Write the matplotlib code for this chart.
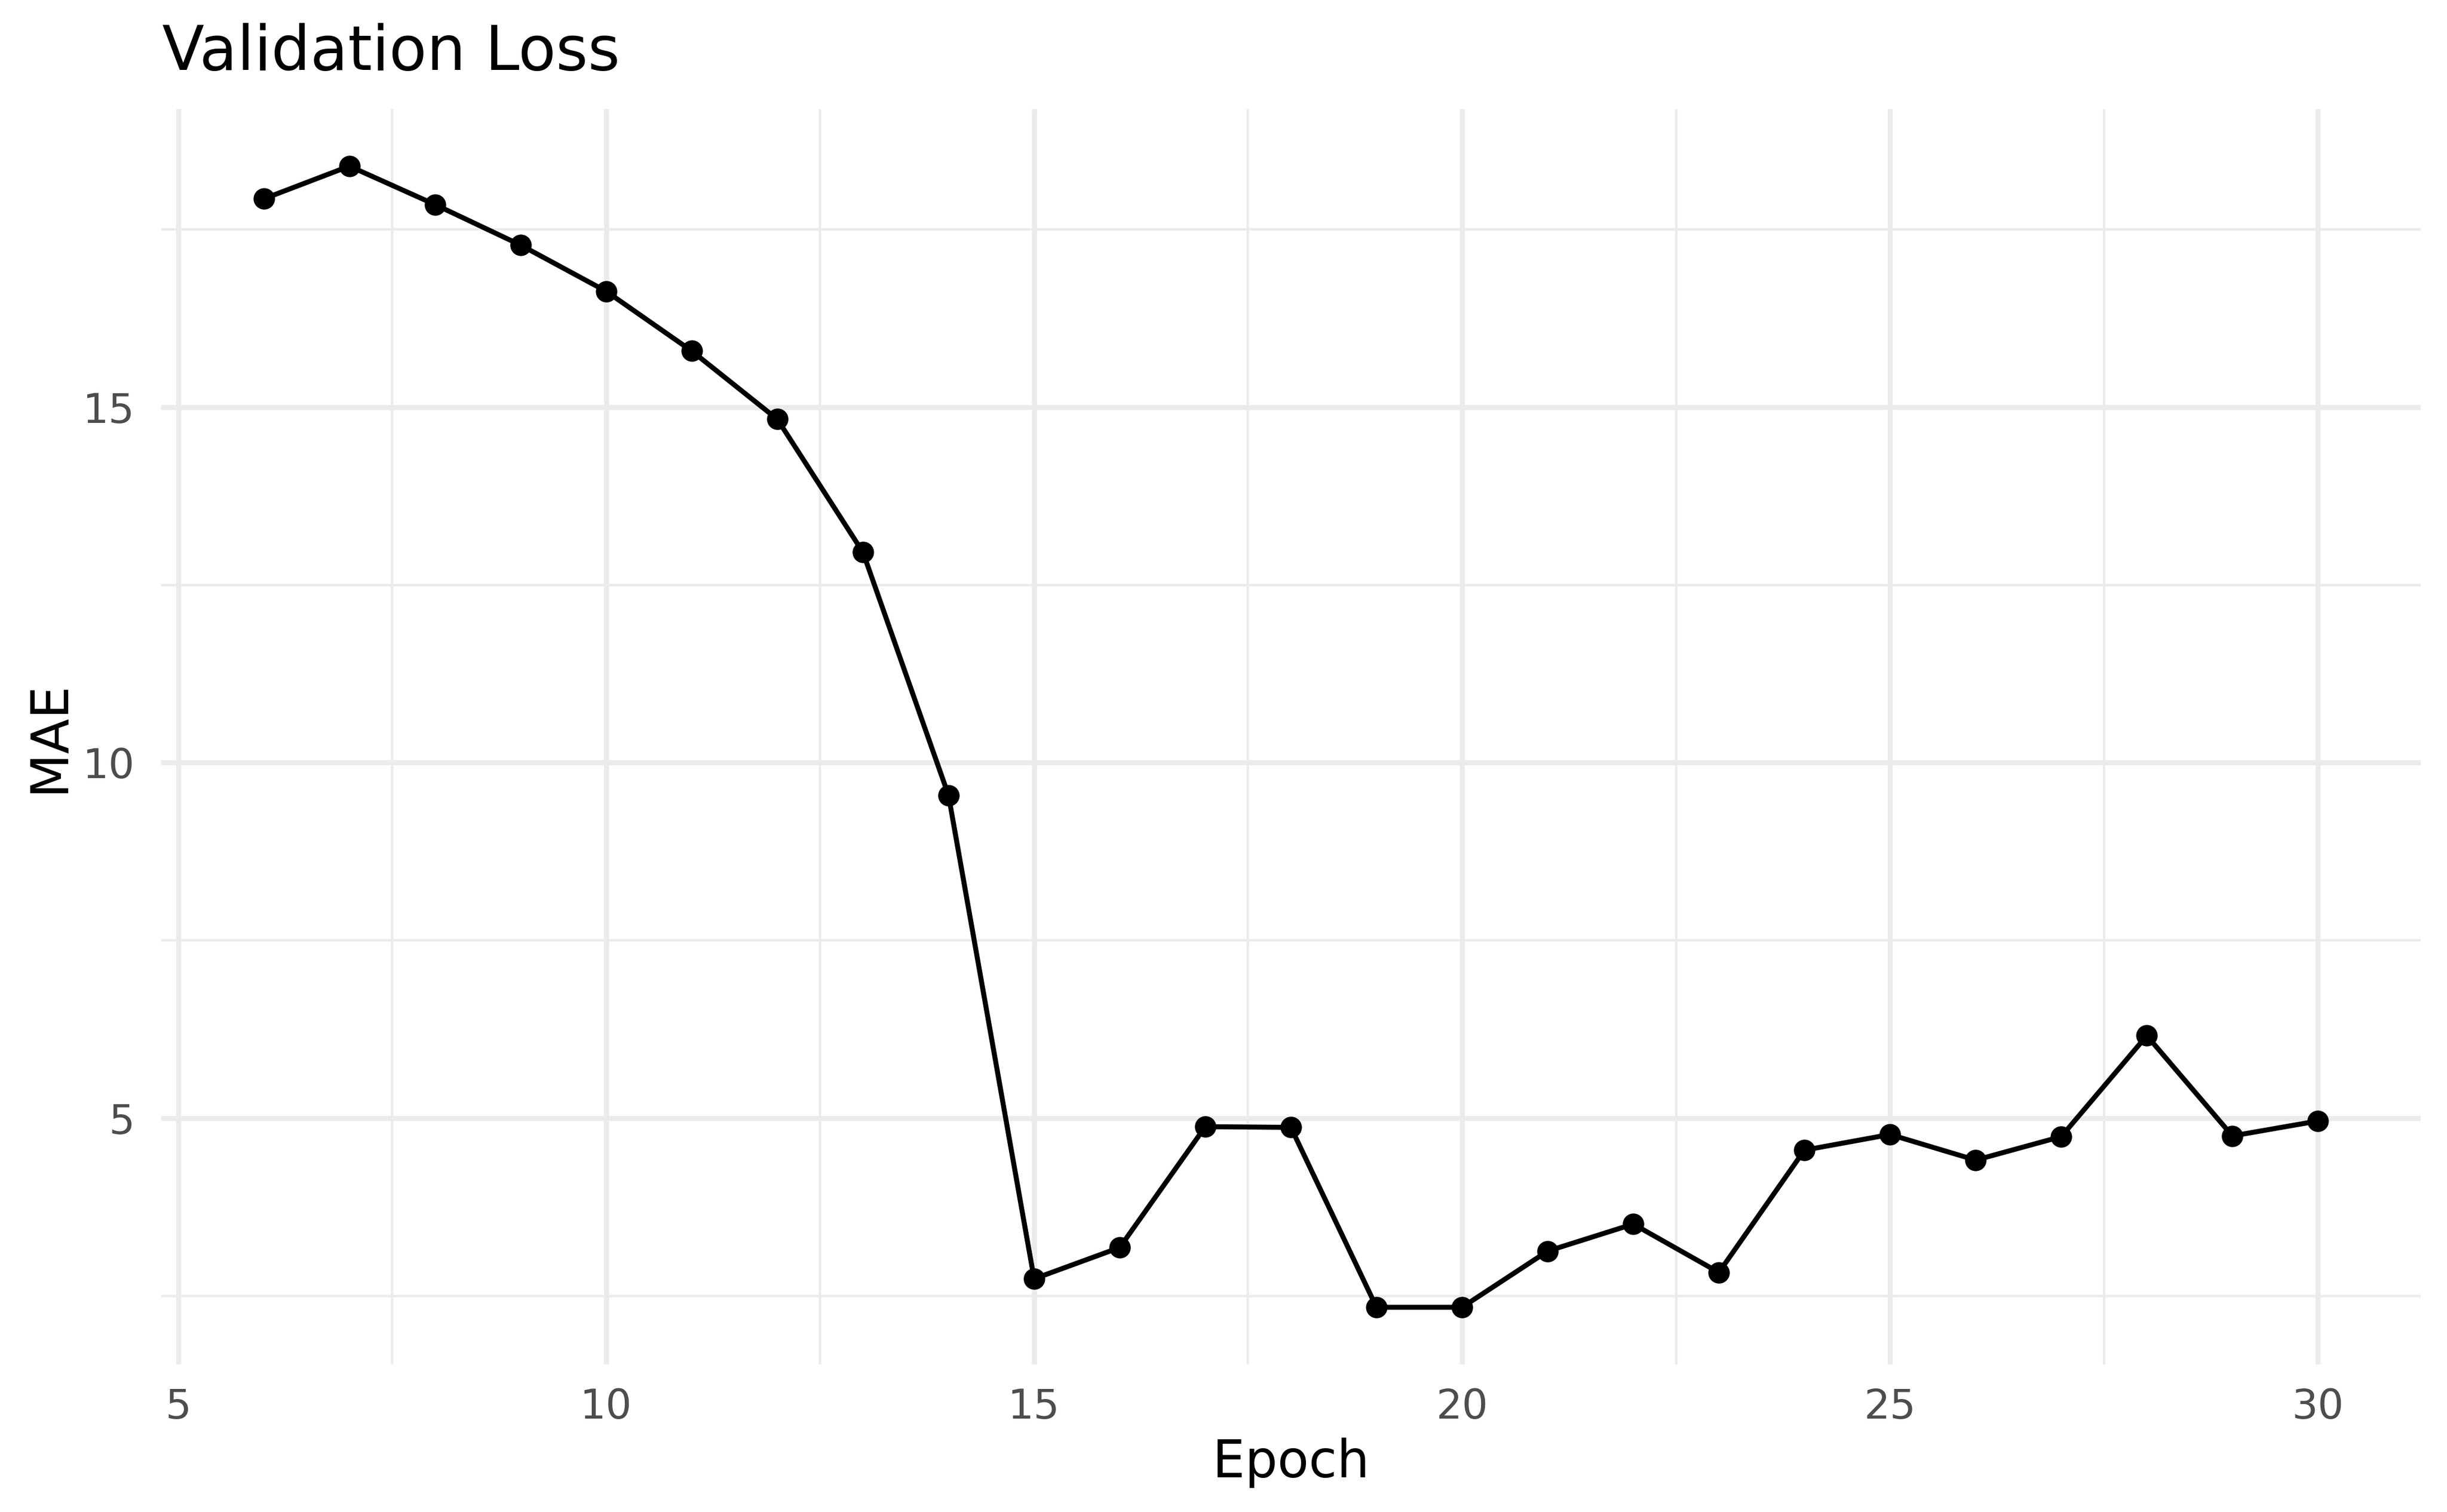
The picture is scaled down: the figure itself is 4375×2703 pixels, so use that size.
import matplotlib
matplotlib.use('Agg')
import matplotlib.pyplot as plt
from matplotlib.ticker import MultipleLocator

# validation loss per epoch
epochs = list(range(6, 31))
mae = [17.93, 18.39, 17.85, 17.28, 16.63, 15.79, 14.83, 12.96, 9.54,
       2.74, 3.18, 4.88, 4.87, 2.34, 2.34, 3.13, 3.51, 2.83, 4.55,
       4.77, 4.41, 4.74, 6.16, 4.75, 4.96]

title = 'Validation Loss'
xlabel = 'Epoch'
ylabel = 'MAE'

W, H = 4375, 2703
DPI = 600
GRID = '#EBEBEB'
TICKCOL = '#4D4D4D'

plt.rcParams['font.family'] = ['DejaVu Sans']

fig = plt.figure(figsize=(W / DPI, H / DPI), dpi=DPI)
fig.patch.set_facecolor('white')

# panel placement in pixels
left, right, top, bottom = 288, 4328, 195, 2439
ax = fig.add_axes([left / W, (H - bottom) / H, (right - left) / W, (bottom - top) / H])

ax.plot(epochs, mae, color='black', lw=1.07, zorder=3, solid_capstyle='butt')
ax.plot(epochs, mae, 'o', color='black', markersize=4.6, markeredgewidth=0, zorder=4)

# ggplot-style 5% expansion
xr = max(epochs) - min(epochs)
yr = max(mae) - min(mae)
ax.set_xlim(min(epochs) - 0.05 * xr, max(epochs) + 0.05 * xr)
ax.set_ylim(min(mae) - 0.05 * yr, max(mae) + 0.05 * yr)

ax.xaxis.set_major_locator(MultipleLocator(5))
ax.xaxis.set_minor_locator(MultipleLocator(2.5))
ax.yaxis.set_major_locator(MultipleLocator(5))
ax.yaxis.set_minor_locator(MultipleLocator(2.5))

ax.grid(which='major', color=GRID, lw=1.07, zorder=0)
ax.grid(which='minor', color=GRID, lw=0.53, zorder=0)
ax.set_axisbelow(True)

for s in ax.spines.values():
    s.set_visible(False)

ax.tick_params(which='both', length=0)
ax.tick_params(axis='x', which='major', labelsize=8.8, labelcolor=TICKCOL, pad=4.9)
ax.tick_params(axis='y', which='major', labelsize=8.8, labelcolor=TICKCOL, pad=5.6)

fig.text(290 / W, (H - 125) / H, title, fontsize=13.2, ha='left', va='baseline', color='black')
fig.text((left + right) / 2 / W, (H - 2641) / H, xlabel, fontsize=11, ha='center', va='baseline', color='black')
fig.text(133 / W, (H - (top + bottom) / 2) / H, ylabel, fontsize=11, rotation=90,
         ha='right', va='center', color='black')

fig.savefig('out.png', dpi=DPI, facecolor='white')
